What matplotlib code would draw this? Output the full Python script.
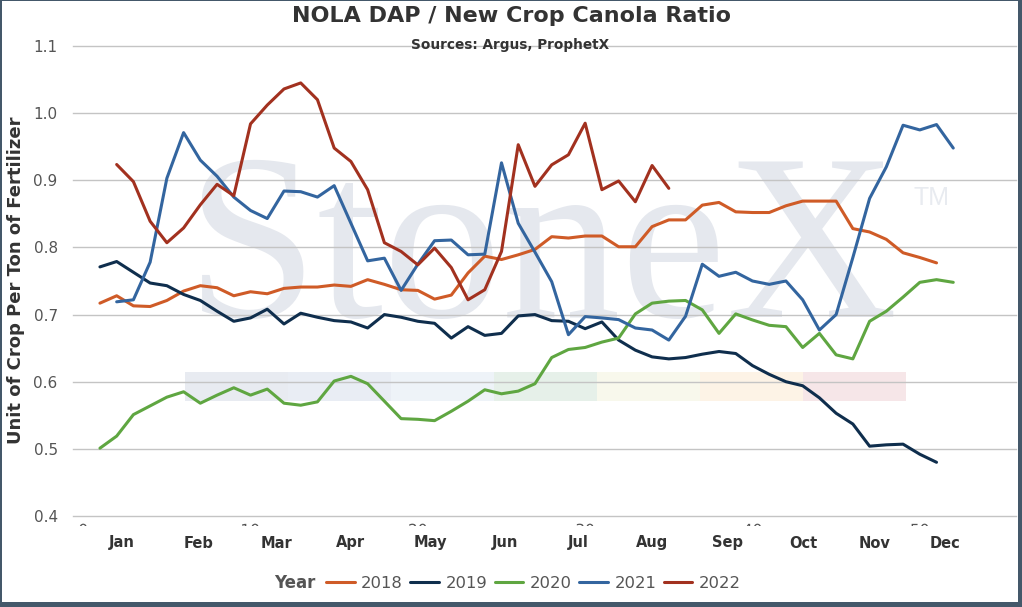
import matplotlib
matplotlib.use("Agg")
import matplotlib.pyplot as plt
import numpy as np
from matplotlib.font_manager import FontProperties
from matplotlib.patches import PathPatch, Rectangle
from matplotlib.textpath import TextPath
from matplotlib.transforms import Affine2D, Bbox, blended_transform_factory

# ---- data (weekly ratio) ----
years = ["2018", "2019", "2020", "2021", "2022"]
colors = ["#cf5b27", "#0f2e4d", "#5fa641", "#33659f", "#a2311f"]
widths = [2.1, 2.1, 2.1, 2.1, 4.3]

weeks_2018 = np.arange(1, 52)
ratio_2018 = [0.717, 0.728, 0.713, 0.712, 0.721, 0.735, 0.743, 0.740, 0.728, 0.734,
              0.731, 0.739, 0.741, 0.741, 0.744, 0.742, 0.752, 0.745, 0.737, 0.736,
              0.723, 0.729, 0.762, 0.787, 0.782, 0.789, 0.797, 0.816, 0.814, 0.817,
              0.817, 0.801, 0.801, 0.831, 0.841, 0.841, 0.863, 0.867, 0.853, 0.852,
              0.852, 0.862, 0.869, 0.869, 0.869, 0.828, 0.823, 0.812, 0.792, 0.785,
              0.777]

weeks_2019 = np.arange(1, 52)
ratio_2019 = [0.771, 0.779, 0.763, 0.747, 0.743, 0.730, 0.721, 0.705, 0.690, 0.695,
              0.708, 0.686, 0.702, 0.696, 0.691, 0.689, 0.680, 0.700, 0.696, 0.690,
              0.687, 0.665, 0.682, 0.669, 0.672, 0.698, 0.700, 0.691, 0.690, 0.679,
              0.689, 0.662, 0.647, 0.637, 0.634, 0.636, 0.641, 0.645, 0.642, 0.624,
              0.611, 0.600, 0.594, 0.576, 0.553, 0.537, 0.504, 0.506, 0.507, 0.492,
              0.480]

weeks_2020 = np.arange(1, 53)
ratio_2020 = [0.501, 0.519, 0.551, 0.564, 0.577, 0.585, 0.568, 0.580, 0.591, 0.580,
              0.589, 0.568, 0.565, 0.570, 0.601, 0.608, 0.597, 0.571, 0.545, 0.544,
              0.542, 0.556, 0.571, 0.588, 0.582, 0.586, 0.597, 0.636, 0.648, 0.651,
              0.659, 0.665, 0.701, 0.717, 0.720, 0.721, 0.707, 0.672, 0.701, 0.692,
              0.684, 0.682, 0.651, 0.672, 0.640, 0.634, 0.690, 0.705, 0.726, 0.748,
              0.752, 0.748]

weeks_2021 = np.arange(2, 53)
ratio_2021 = [0.719, 0.722, 0.778, 0.903, 0.971, 0.930, 0.906, 0.875, 0.855, 0.843,
              0.884, 0.883, 0.875, 0.892, 0.836, 0.780, 0.784, 0.736, 0.775, 0.810,
              0.811, 0.789, 0.790, 0.926, 0.836, 0.793, 0.749, 0.670, 0.697, 0.695,
              0.6925, 0.680, 0.677, 0.662, 0.6975, 0.775, 0.757, 0.763, 0.750, 0.745,
              0.750, 0.722, 0.677, 0.700, 0.785, 0.873, 0.920, 0.982, 0.975, 0.983,
              0.948]

weeks_2022 = np.arange(2, 36)
ratio_2022 = [0.9235, 0.898, 0.839, 0.807, 0.829, 0.8635, 0.894, 0.877, 0.984, 1.012,
              1.036, 1.045, 1.020, 0.948, 0.928, 0.886, 0.807, 0.794, 0.774, 0.799,
              0.770, 0.722, 0.737, 0.794, 0.953, 0.891, 0.923, 0.938, 0.985, 0.886,
              0.899, 0.868, 0.922, 0.888]

months = ["Jan", "Feb", "Mar", "Apr", "May", "Jun",
          "Jul", "Aug", "Sep", "Oct", "Nov", "Dec"]
month_weeks = [2.31, 6.92, 11.58, 16.0, 20.72, 25.21,
               29.57, 33.99, 38.48, 43.02, 47.32, 51.51]

week_ticks = [0, 10, 20, 30, 40, 50]
y_ticks = [0.4, 0.5, 0.6, 0.7, 0.8, 0.9, 1.0, 1.1]

series_weeks = [weeks_2018, weeks_2019, weeks_2020, weeks_2021, weeks_2022]
series_vals = [ratio_2018, ratio_2019, ratio_2020, ratio_2021, ratio_2022]

# watermark bar colours (StoneX logo strip)
logo_colors = ["#e8ebf1", "#e9edf4", "#eef3f8", "#e6f0e9",
               "#f8f8ec", "#fdf3e6", "#f6e6e8"]

W, H = 1022, 607
fig = plt.figure(figsize=(W / 100, H / 100), dpi=100, facecolor="#44586a")
fig.patches.append(Rectangle((2 / W, 5 / H), 1016 / W, 601 / H,
                             transform=fig.transFigure, facecolor="white",
                             edgecolor="none", zorder=-10))

ax = fig.add_axes([73 / W, 1 - 516 / H, 943 / W, 470 / H])
ax.set_zorder(2)
ax.set_facecolor("none")
ax.set_xlim(-0.61, 55.75)
ax.set_ylim(0.4, 1.1)

# watermark
ax.text(0.1188, 0.4234, "StoneX", transform=ax.transAxes, fontsize=171,
        family="Liberation Serif", color="#e5e8ee", va="baseline", ha="left",
        zorder=0)
ax.text(0.8918, 0.6617, "TM", transform=ax.transAxes, fontsize=18,
        family="Liberation Sans", color="#e8ebf0", va="baseline", ha="left",
        zorder=0)
seg_w = 103 / 943
for i, c in enumerate(logo_colors):
    ax.add_patch(Rectangle((0.1188 + i * seg_w, 0.2447), seg_w, 0.0611,
                           transform=ax.transAxes, facecolor=c,
                           edgecolor="none", zorder=0.5))

for s in ax.spines.values():
    s.set_visible(False)
ax.set_yticks(y_ticks)
ax.set_yticklabels([f"{v:.1f}" for v in y_ticks])
for yv in y_ticks:
    ax.axhline(yv, color="#c4c4c4", lw=1.0, zorder=1, clip_on=False)
ax.tick_params(axis="y", length=0, pad=11, labelsize=11, labelcolor="#555555")
ax.set_xticks([])

# week numbers are hidden under the month row, only their tops peek out:
# draw them as paths clipped to a thin strip under the axis
prop = FontProperties(family="DejaVu Sans")
clip = Bbox.from_extents(0, H - 526, W, H - 517)
for wk in week_ticks:
    tp = TextPath((0, 0), str(wk), size=15.3, prop=prop)
    ext = tp.get_extents()
    xpix = ax.transData.transform((wk, 0.4))[0]
    pp = PathPatch(tp, facecolor="#555555", edgecolor="none",
                   transform=Affine2D().translate(xpix - ext.width / 2 - ext.x0,
                                                  H - 535))
    pp.set_clip_box(clip)
    pp.set_clip_on(True)
    fig.patches.append(pp)

trx = blended_transform_factory(ax.transData, fig.transFigure)
for m, wk in zip(months, month_weeks):
    fig.text(wk, 1 - 543 / H, m, transform=trx, ha="center", va="center",
             fontsize=10.5, fontweight="bold", color="#333333", zorder=3)

for yr, wk, vals, c, lw in zip(years, series_weeks, series_vals, colors, widths):
    ax.plot(wk, vals, color=c, lw=lw, label=yr, zorder=3,
            solid_joinstyle="round", solid_capstyle="round")

fig.text(511 / W, 1 - 16 / H, "NOLA DAP / New Crop Canola Ratio", ha="center",
         va="center", fontsize=16, fontweight="bold", color="#333333")
fig.text(510 / W, 1 - 45 / H, "Sources: Argus, ProphetX", ha="center",
         va="center", fontsize=9.8, fontweight="bold", color="#333333")
fig.text(16 / W, 1 - 280 / H, "Unit of Crop Per Ton of Fertilizer",
         rotation=90, ha="center", va="center", fontsize=13,
         fontweight="bold", color="#333333")

handles, labels = ax.get_legend_handles_labels()
for h in handles:
    h.set_linewidth(2.2)
leg = fig.legend(handles, labels, loc="center", ncol=5, frameon=False,
                 bbox_to_anchor=(533.5 / W, 1 - 583 / H), fontsize=11.8,
                 handlelength=1.75, handletextpad=0.4, columnspacing=0.45,
                 borderpad=0)
for t in leg.get_texts():
    t.set_color("#555555")
fig.text(316 / W, 1 - 583 / H, "Year", ha="right", va="center",
         fontsize=12, fontweight="bold", color="#555555")

fig.savefig("out.png", dpi=100, facecolor=fig.get_facecolor())
